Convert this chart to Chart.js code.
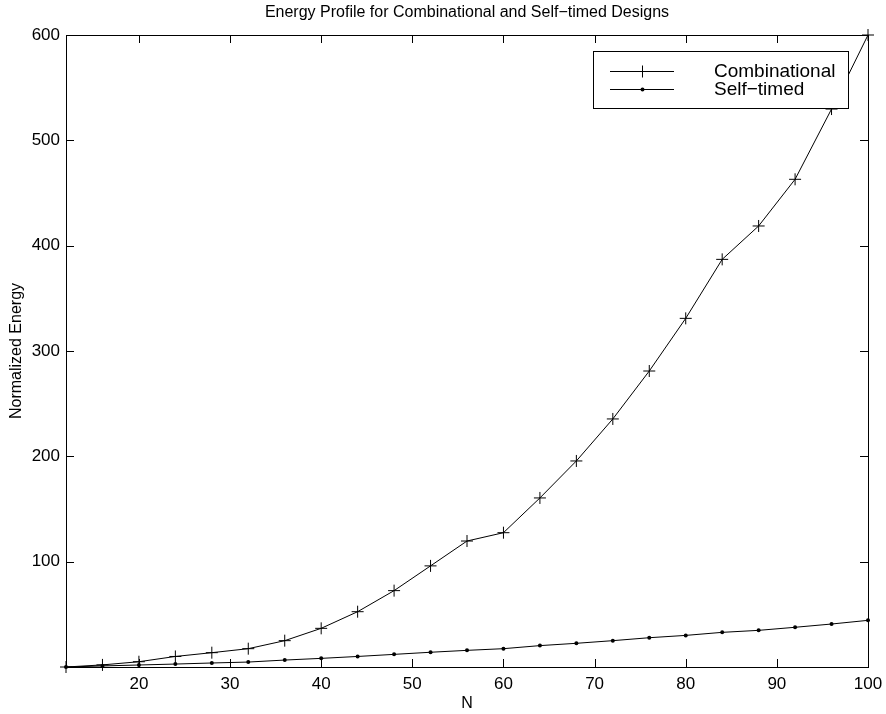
<!DOCTYPE html>
<html><head><meta charset="utf-8">
<script src="https://cdn.jsdelivr.net/npm/chart.js@4.4.1/dist/chart.umd.min.js"></script>
<style>html,body{margin:0;padding:0;background:#fff}#wrap{width:886px;height:714px}</style>
</head><body><div id="wrap"><canvas id="c" width="886" height="714"></canvas></div>
<script>
const N = [12,16,20,24,28,32,36,40,44,48,52,56,60,64,68,72,76,80,84,88,92,96,100];
const combinational = [0,2,5,10,13.6,17.4,25,36.7,52.5,72.5,96,119.6,127.5,160.5,195.6,235.5,281,331,387,418.7,463,529.7,600];
const selfTimed = [0,1,1.9,2.8,3.8,4.7,6.6,8.2,10,12,14,15.8,17.4,20.3,22.5,25,27.8,30,32.9,34.8,37.7,40.8,44.3];
const xTicks = [20,30,40,50,60,70,80,90,100];
const yTicks = [100,200,300,400,500,600];
const seriesNames = ['Combinational','Self\u2212timed'];
const titleText = 'Energy Profile for Combinational and Self\u2212timed Designs';

const FONT = '"Liberation Sans", Arial, Helvetica, sans-serif';

const framePlugin = {
  id: 'frameTicks',
  afterDatasetsDraw(chart) {
    const {ctx, chartArea: a, scales: {x, y}} = chart;
    ctx.save();
    ctx.strokeStyle = '#000';
    ctx.lineWidth = 1;
    ctx.strokeRect(Math.round(a.left) + 0.5, Math.round(a.top) + 0.5, Math.round(a.right - a.left), Math.round(a.bottom - a.top));
    const L = 8;
    ctx.beginPath();
    xTicks.forEach(v => {
      const px = Math.round(x.getPixelForValue(v)) + 0.5;
      ctx.moveTo(px, a.bottom); ctx.lineTo(px, a.bottom - L);
      ctx.moveTo(px, a.top); ctx.lineTo(px, a.top + L);
    });
    yTicks.forEach(v => {
      const py = Math.round(y.getPixelForValue(v)) + 0.5;
      ctx.moveTo(a.left, py); ctx.lineTo(a.left + L, py);
      ctx.moveTo(a.right, py); ctx.lineTo(a.right - L, py);
    });
    ctx.stroke();
    ctx.restore();
  },
  afterDraw(chart) {
    const {ctx, chartArea: a} = chart;
    ctx.save();
    // title
    ctx.fillStyle = '#000';
    ctx.font = '16px ' + FONT;
    ctx.textAlign = 'center';
    ctx.textBaseline = 'middle';
    ctx.fillText(titleText, (a.left + a.right) / 2, 13);
    // legend
    const bx = 593.5, by = 51.5, bw = 255, bh = 57;
    ctx.fillStyle = '#fff';
    ctx.fillRect(bx, by, bw, bh);
    ctx.strokeStyle = '#000';
    ctx.lineWidth = 1;
    ctx.strokeRect(bx, by, bw, bh);
    const rows = [71, 89];
    chart.data.datasets.forEach((ds, i) => {
      const yy = rows[i] + 0.5;
      ctx.beginPath();
      ctx.moveTo(610, yy); ctx.lineTo(674, yy);
      ctx.stroke();
      if (ds.pointStyle === 'cross') {
        ctx.beginPath();
        ctx.moveTo(642.5, yy - 6); ctx.lineTo(642.5, yy + 6);
        ctx.moveTo(636.5, yy); ctx.lineTo(648.5, yy);
        ctx.stroke();
      } else {
        ctx.beginPath();
        ctx.fillStyle = '#000';
        ctx.arc(642.5, yy, 2, 0, Math.PI * 2);
        ctx.fill();
      }
      ctx.fillStyle = '#000';
      ctx.font = '19px ' + FONT;
      ctx.textBaseline = 'middle';
      ctx.textAlign = 'left';
      ctx.fillText(ds.label, 714, rows[i] + 1);
    });
    ctx.restore();
  }
};

new Chart(document.getElementById('c'), {
  type: 'scatter',
  data: {
    datasets: [
      {
        label: seriesNames[0],
        data: N.map((n, i) => ({x: n, y: combinational[i]})),
        showLine: true,
        borderColor: '#000',
        backgroundColor: '#000',
        borderWidth: 1,
        pointStyle: 'cross',
        pointRadius: 6,
        pointBorderWidth: 1,
        clip: false
      },
      {
        label: seriesNames[1],
        data: N.map((n, i) => ({x: n, y: selfTimed[i]})),
        showLine: true,
        borderColor: '#000',
        backgroundColor: '#000',
        borderWidth: 1,
        pointStyle: 'circle',
        pointRadius: 2,
        pointBorderWidth: 0,
        clip: false
      }
    ]
  },
  options: {
    responsive: false,
    animation: false,
    layout: {padding: {left: 0, right: 18, top: 35, bottom: 0}},
    plugins: {
      legend: {display: false},
      tooltip: {enabled: false},
      title: {display: false}
    },
    scales: {
      x: {
        type: 'linear',
        min: 12, max: 100,
        afterBuildTicks: s => { s.ticks = xTicks.map(v => ({value: v})); },
        afterFit: s => { s.height = 47; s.paddingLeft = 0; s.paddingRight = 0; },
        grid: {drawOnChartArea: false, drawTicks: false},
        border: {display: false},
        ticks: {color: '#000', font: {family: FONT, size: 17}, padding: 7, maxRotation: 0, autoSkip: false},
        title: {display: true, text: 'N', color: '#000', font: {family: FONT, size: 16}, padding: {top: 0, bottom: 0.5}}
      },
      y: {
        type: 'linear',
        min: 0, max: 600,
        afterBuildTicks: s => { s.ticks = yTicks.map(v => ({value: v})); },
        afterFit: s => { s.width = 66; s.paddingTop = 0; s.paddingBottom = 0; },
        grid: {drawOnChartArea: false, drawTicks: false},
        border: {display: false},
        ticks: {color: '#000', font: {family: FONT, size: 17}, padding: 6, autoSkip: false},
        title: {display: true, text: 'Normalized Energy', color: '#000', font: {family: FONT, size: 16}, padding: {top: 7.4, bottom: 0}}
      }
    }
  },
  plugins: [framePlugin]
});
</script>
</body></html>
